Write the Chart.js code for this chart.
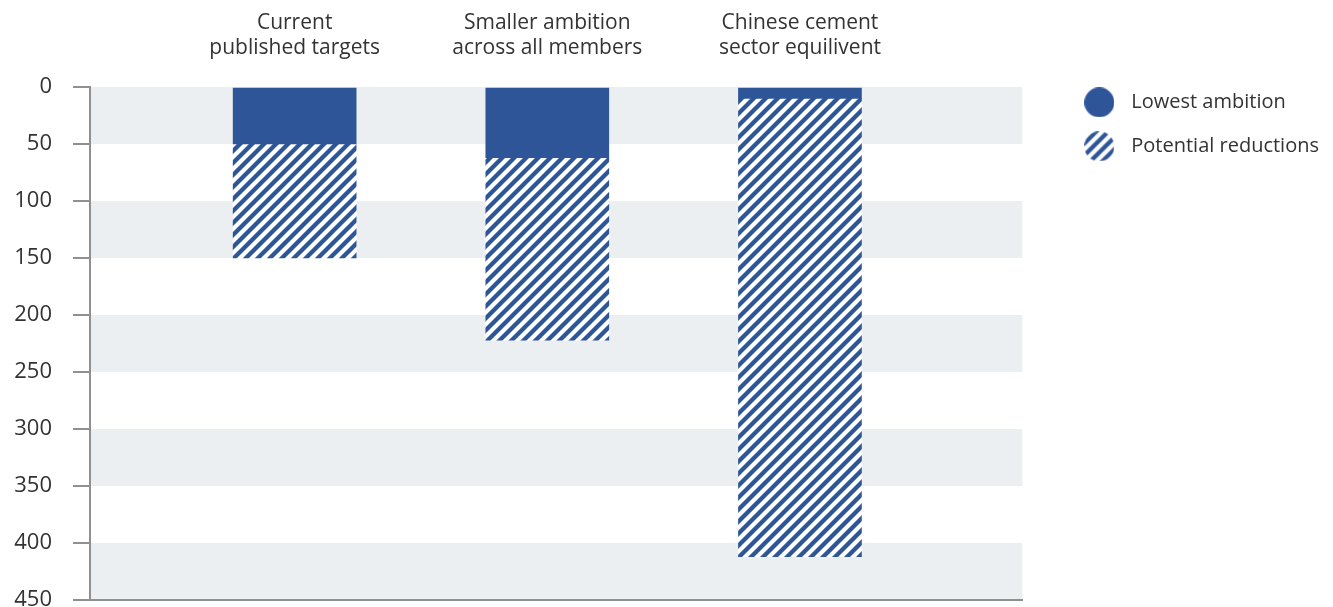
<!DOCTYPE html>
<html>
<head>
<meta charset="utf-8">
<script src="https://cdn.jsdelivr.net/npm/chart.js@4"></script>
<style>
    body { margin: 0; background: #fff; }
    canvas { display: block; }
</style>
</head>
<body>
<canvas id="chart-reducoes" width="1333" height="607"></canvas>
<script>
// ===== DATA =====
const categories = [
    ['Current', 'published targets'],
    ['Smaller ambition', 'across all members'],
    ['Chinese cement', 'sector equilivent']
];
const lowestAmbition = [50, 62, 10];
const potentialReductions = [100, 160, 402];
const seriesNames = ['Lowest ambition', 'Potential reductions'];

const BLUE = '#2d5597';
const AXIS_GRAY = '#909090';
const TEXT = '#333333';
const FAMILY = '"Open Sans", Lato, sans-serif';

// Diagonal stripes for the hatched bars
function createHatch(color) {
    const size = 12;
    const c = document.createElement('canvas');
    c.width = size;
    c.height = size;
    const g = c.getContext('2d');
    g.fillStyle = '#fff';
    g.fillRect(0, 0, size, size);
    g.strokeStyle = color;
    g.lineWidth = 4.3;
    g.beginPath();
    g.moveTo(-size, size * 2); g.lineTo(size * 2, -size);
    g.moveTo(-size, size); g.lineTo(size, -size);
    g.moveTo(0, size * 2); g.lineTo(size * 2, 0);
    g.stroke();
    return g.createPattern(c, 'repeat');
}

// Round legend marker (solid or hatched)
function createMarker(fill) {
    const c = document.createElement('canvas');
    c.width = 30;
    c.height = 30;
    const g = c.getContext('2d');
    g.beginPath();
    g.arc(15, 15, 15, 0, Math.PI * 2);
    g.fillStyle = fill;
    g.fill();
    return c;
}

const hatch = createHatch(BLUE);

// Alternating grey bands behind the bars
const bandsPlugin = {
    id: 'bands',
    beforeDraw(chart) {
        const { ctx, chartArea, scales: { y } } = chart;
        ctx.save();
        ctx.fillStyle = '#ebeff2';
        for (let v = 0; v < 450; v += 100) {
            const top = y.getPixelForValue(v);
            const bottom = y.getPixelForValue(v + 50);
            ctx.fillRect(chartArea.left, top, chartArea.right - chartArea.left, bottom - top);
        }
        ctx.restore();
    }
};

const toPoints = arr => arr.map((v, i) => ({ x: i + 1, y: v }));

new Chart(document.getElementById('chart-reducoes'), {
    type: 'bar',
    data: {
        datasets: [{
            label: seriesNames[0],
            data: toPoints(lowestAmbition),
            backgroundColor: BLUE,
            pointStyle: createMarker(BLUE),
            barThickness: 123,
            borderWidth: 0
        }, {
            label: seriesNames[1],
            data: toPoints(potentialReductions),
            backgroundColor: hatch,
            pointStyle: createMarker(createHatch(BLUE)),
            barThickness: 123,
            borderWidth: 0
        }]
    },
    options: {
        responsive: false,
        animation: false,
        layout: { padding: { left: 0, right: 4, top: 0, bottom: 7 } },
        plugins: {
            tooltip: { enabled: false },
            legend: {
                position: 'right',
                align: 'start',
                maxWidth: 400,
                title: { display: true, text: ' ', padding: { top: 54, bottom: 0 } },
                labels: {
                    usePointStyle: true,
                    pointStyleWidth: 44,
                    padding: 24,
                    color: TEXT,
                    font: { family: FAMILY, size: 20 }
                }
            }
        },
        scales: {
            x: {
                type: 'linear',
                position: 'top',
                stacked: true,
                offset: false,
                min: 0.19,
                max: 3.88,
                afterBuildTicks: s => { s.ticks = categories.map((_, i) => ({ value: i + 1 })); },
                afterFit: s => { s.height = 87; },
                ticks: {
                    callback: v => categories[v - 1],
                    color: TEXT,
                    font: { family: FAMILY, size: 21, lineHeight: 1.2 },
                    padding: 18,
                    maxRotation: 0,
                    autoSkip: false
                },
                grid: { display: false },
                border: { display: false }
            },
            xBottom: {
                type: 'linear',
                position: 'bottom',
                offset: false,
                min: 0.19,
                max: 3.88,
                afterFit: s => { s.height = 0; },
                ticks: { display: false },
                grid: { display: false, drawTicks: false },
                border: { display: true, color: AXIS_GRAY, width: 2 }
            },
            y: {
                reverse: true,
                stacked: true,
                min: 0,
                max: 450,
                // the last label may hang below the plot
                afterFit: s => { s.width = 90; s.paddingBottom = 0; },
                ticks: { stepSize: 50, color: TEXT, font: { family: FAMILY, size: 22 }, padding: 21 },
                grid: { drawOnChartArea: false, tickLength: 17, color: AXIS_GRAY, lineWidth: 2 },
                border: { color: AXIS_GRAY, width: 2 }
            },
            yGap: {
                position: 'right',
                min: 0,
                max: 450,
                afterFit: s => { s.width = 31; },
                ticks: { display: false },
                grid: { display: false, drawTicks: false },
                border: { display: false }
            }
        }
    },
    plugins: [bandsPlugin]
});
</script>
</body>
</html>
